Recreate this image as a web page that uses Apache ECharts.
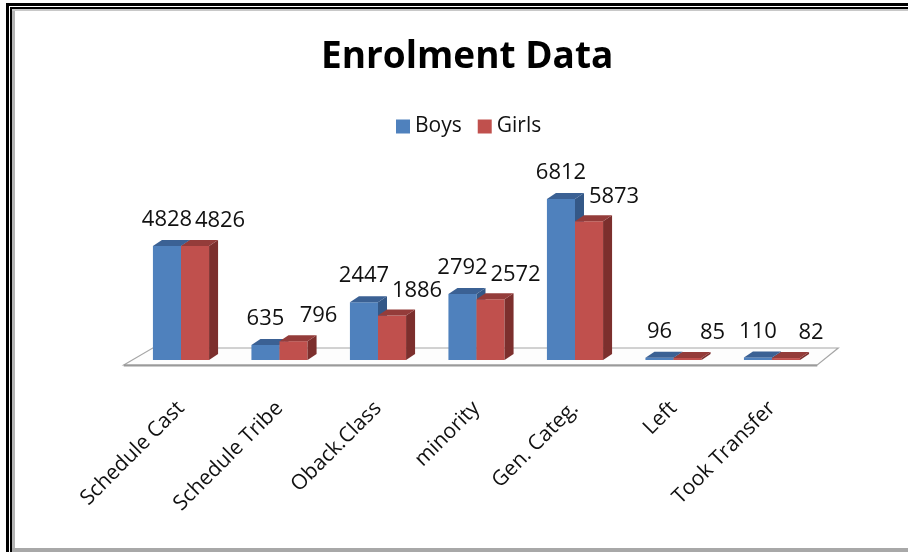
<!DOCTYPE html>
<html>
<head>
<meta charset="utf-8">
<script src="https://cdn.jsdelivr.net/npm/echarts@6/dist/echarts.min.js"></script>
<style>
  html, body { margin: 0; padding: 0; background: #fff; }
  #main { width: 908px; height: 552px; }
</style>
</head>
<body>
<div id="main"></div>
<script>
var categories = ["Schedule Cast", "Schedule Tribe", "Oback.Class", "minority", "Gen. Categ.", "Left", "Took Transfer"];
var boys = [4828, 635, 2447, 2792, 6812, 96, 110];
var girls = [4826, 796, 1886, 2572, 5873, 85, 82];

var FONT = "Open Sans";
var DX = 9, DY = -6; // 3d depth

// one 3d bar (front + top + side) drawn from the axis coords
function bar3d(side, front, topC, sideC, lblDx, lblDy) {
  return function (params, api) {
    var cat = api.value(0);
    var val = api.value(1);
    var base = api.coord([cat, 0]);
    var top = api.coord([cat, val]);
    var band = api.size([1, 0])[0];
    var w = band * 0.285;
    var x0 = side === 0 ? base[0] - w : base[0];
    var x1 = x0 + w;
    var yb = base[1], yt = top[1];
    return {
      type: "group",
      children: [
        { type: "rect", shape: { x: x0, y: yt, width: w, height: yb - yt }, style: { fill: front } },
        { type: "polygon", shape: { points: [[x1, yt], [x1 + DX, yt + DY], [x1 + DX, yb + DY], [x1, yb]] }, style: { fill: sideC } },
        { type: "polygon", shape: { points: [[x0, yt], [x1, yt], [x1 + DX, yt + DY], [x0 + DX, yt + DY]] }, style: { fill: topC } },
        {
          type: "text",
          style: {
            text: String(val), x: x0 + w / 2 + lblDx, y: yt + lblDy,
            align: "center", verticalAlign: "middle",
            fontSize: 22, fontFamily: FONT, fill: "#111"
          }
        }
      ]
    };
  };
}

// floor plane under the bars
function floor(params, api) {
  var band = api.size([1, 0])[0];
  var a = api.coord([0, 0]);
  var b = api.coord([categories.length - 1, 0]);
  var xl = a[0] - band / 2, xr = b[0] + band / 2, y = a[1];
  return {
    type: "group",
    children: [
      {
        type: "polygon",
        shape: { points: [[xl - 8, y + 5], [xl + 21, y - 12], [xr + 17, y - 12], [xr - 4, y + 5]] },
        style: { fill: "#fdfdfd", stroke: "#a6a6a6", lineWidth: 1.2 }
      },
      { type: "line", shape: { x1: xl - 8, y1: y + 5.5, x2: xr - 4, y2: y + 5.5 }, style: { stroke: "#9a9a9a", lineWidth: 2 } }
    ]
  };
}

var chart = echarts.init(document.getElementById("main"));
chart.setOption({
  backgroundColor: "#fff",
  animation: false,
  title: {
    text: "Enrolment Data",
    left: 316,
    top: 34,
    textStyle: { fontFamily: FONT, fontSize: 37, fontWeight: "bold", color: "#000" }
  },
  legend: {
    data: ["Boys", "Girls"],
    left: 391,
    top: 111,
    icon: "rect",
    itemWidth: 14,
    itemHeight: 14,
    itemGap: 16,
    textStyle: { fontFamily: FONT, fontSize: 21, color: "#111" }
  },
  grid: { left: 131.75, right: 86.75, top: 171, bottom: 192 },
  xAxis: {
    type: "category",
    data: categories,
    axisLine: { show: false },
    axisTick: { show: false },
    axisLabel: {
      rotate: 45,
      interval: 0,
      margin: 45,
      fontFamily: FONT,
      fontSize: 21,
      color: "#111"
    }
  },
  yAxis: {
    type: "value",
    min: 0,
    max: 8000,
    show: false,
    splitLine: { show: false }
  },
  graphic: [
    { type: "rect", shape: { x: 6, y: 3, width: 3, height: 549 }, style: { fill: "#000" } },
    { type: "rect", shape: { x: 6, y: 3, width: 902, height: 3 }, style: { fill: "#000" } },
    { type: "rect", shape: { x: 10, y: 7, width: 2, height: 545 }, style: { fill: "#000" } },
    { type: "rect", shape: { x: 10, y: 7, width: 898, height: 2 }, style: { fill: "#000" } },
    { type: "rect", shape: { x: 12, y: 9, width: 3, height: 543 }, style: { fill: "#b4b4b4" } },
    { type: "rect", shape: { x: 12, y: 9, width: 896, height: 2 }, style: { fill: "#c8c8c8" } },
    { type: "rect", shape: { x: 12, y: 548, width: 896, height: 4 }, style: { fill: "#a8a8a8" } }
  ],
  series: [
    {
      name: "floor",
      type: "custom",
      renderItem: floor,
      data: [[0, 0]],
      silent: true,
      z: 1
    },
    {
      name: "Boys",
      type: "custom",
      itemStyle: { color: "#4f81bd" },
      renderItem: bar3d(0, "#4f81bd", "#3b6194", "#345887", 0, -26),
      encode: { x: 0, y: 1 },
      data: boys.map(function (v, i) { return [i, v]; }),
      z: 2
    },
    {
      name: "Girls",
      type: "custom",
      itemStyle: { color: "#c0504d" },
      renderItem: bar3d(1, "#c0504d", "#943c3a", "#7c2f2d", 25, -25),
      encode: { x: 0, y: 1 },
      data: girls.map(function (v, i) { return [i, v]; }),
      z: 3
    }
  ]
});
</script>
</body>
</html>
